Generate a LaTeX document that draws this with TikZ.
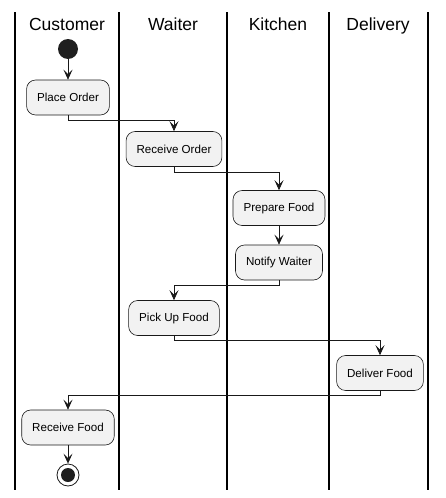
\documentclass[tikz,border=0pt]{standalone}
\usepackage{fontspec}
\setmainfont{Liberation Sans}
\usetikzlibrary{calc,arrows.meta}

\begin{document}
\begin{tikzpicture} [x=1pt,y=-1pt,
  activite/.style=
  {rectangle,rounded corners=9pt, fill=black!5,
    draw=black!90,line width=0.6pt,minimum height=35pt,inner xsep=10.5pt,
    font=\fontsize{11.6}{14}\selectfont},
  couloir/.style={line width=1.3pt,black},
  titre/.style={anchor=base,font=\fontsize{17.5}{21}\selectfont},
  fleche/.style={-{Stealth[length=10pt,width=9pt,inset=4.5pt]},line width=0.7pt,black!90}]
\useasboundingbox (0,0) rectangle (446,498);
% couloirs
\foreach \x in {15,119,227,329,428}
  \draw [couloir] (\x,12) -- (\x,490);
\node [titre] (tCustomer) at (67,30.5) {Customer};
\node [titre] (tWaiter) at (173,30.5) {Waiter};
\node [titre] (tKitchen) at (278,30.5) {Kitchen};
\node [titre] (tDelivery) at (378,30.5) {Delivery};
% activites
\node [circle,fill=black!88,minimum size=20pt,inner sep=0pt] (debut) at (68,49) {};
\node [activite] (place) at (68,97.5) {Place Order};
\node [activite] (recoit) at (174,149) {Receive Order};
\node [activite] (prepare) at (279,208) {Prepare Food};
\node [activite] (notifie) at (279,262.5) {Notify Waiter};
\node [activite] (prend) at (174,318) {Pick Up Food};
\node [activite] (livre) at (380,373) {Deliver Food};
\node [activite] (recu) at (68,427.5) {Receive Food};
\node [circle,draw=black!90,line width=0.8pt,minimum size=22pt,inner sep=0pt] (fin) at (68,475) {};
\fill [black!88] (fin.center) circle (7pt);
% transitions
\draw [fleche] (debut) -- (place.north);
\draw [fleche] (place.south) -- ++(0,5) -| (recoit.north);
\draw [fleche] (recoit.south) -- ++(0,6) -| (prepare.north);
\draw [fleche] (prepare.south) -- (notifie.north);
\draw [fleche] (notifie.south) -- ++(0,5) -| (prend.north);
\draw [fleche] (prend.south) -- ++(0,5) -| (livre.north);
\draw [fleche] (livre.south) -- ++(0,5) -| (recu.north);
\draw [fleche] (recu.south) -- (fin.north);

\end{tikzpicture}
\end{document}
